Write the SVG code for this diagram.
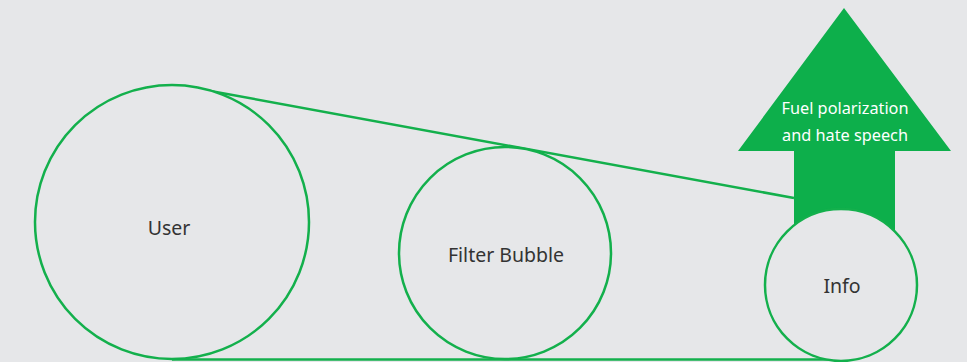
<svg xmlns="http://www.w3.org/2000/svg" width="967" height="362" viewBox="0 0 967 362">
<style>
.node{fill:#e6e7e9;stroke:#13b04c;stroke-width:2.5}
.conn{stroke:#13b04c;stroke-width:2.5;fill:none}
.lbl{font-family:"Noto Sans","Open Sans",sans-serif;font-size:19.5px;fill:#333;text-anchor:middle}
.wl{font-family:"Noto Sans","Open Sans",sans-serif;font-size:16.3px;fill:#fff;text-anchor:middle}
</style>
<rect width="967" height="362" fill="#e6e7e9"/>
<g id="arrow">
<polygon points="844,8 951,151 895,151 895,240 794,240 794,151 738,151" fill="#0daf4b"/>
<text class="wl" x="845" y="114">Fuel polarization</text>
<text class="wl" x="845" y="141">and hate speech</text>
</g>
<g id="connectors">
<line class="conn" x1="205" y1="90" x2="794" y2="198"/>
<line class="conn" x1="172" y1="359.5" x2="841" y2="359.5"/>
</g>
<g id="user"><circle class="node" cx="172" cy="222" r="137"/><text class="lbl" x="169" y="235">User</text></g>
<g id="filter"><circle class="node" cx="505" cy="253" r="106"/><text class="lbl" x="506" y="262">Filter Bubble</text></g>
<g id="info"><circle class="node" cx="841" cy="285" r="76"/><text class="lbl" x="842" y="293">Info</text></g>
</svg>
